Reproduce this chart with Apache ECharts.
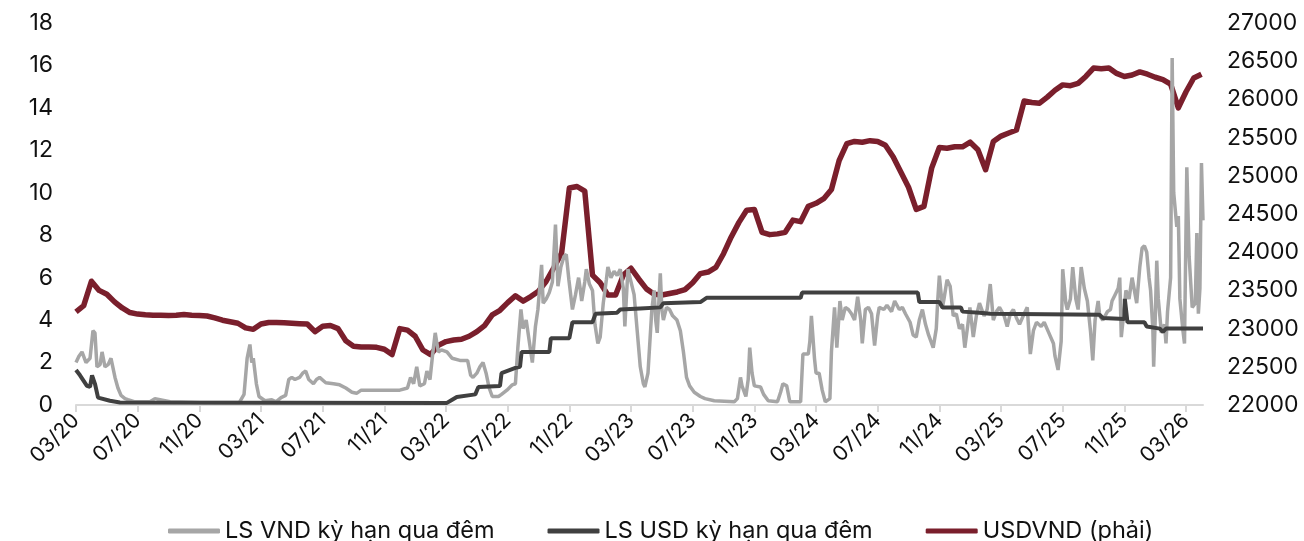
<!DOCTYPE html>
<html>
<head>
<meta charset="utf-8">
<script src="https://cdn.jsdelivr.net/npm/echarts@6/dist/echarts.min.js"></script>
<style>
  html, body { margin: 0; padding: 0; background: #fff; }
  #chart { width: 1304px; height: 541px; }
</style>
</head>
<body>
<div id="chart"></div>
<script>
// x positions are months since 03/2020
const xTickLabels = ['03/20', '07/20', '11/20', '03/21', '07/21', '11/21', '03/22', '07/22', '11/22',
  '03/23', '07/23', '11/23', '03/24', '07/24', '11/24', '03/25', '07/25', '11/25', '03/26']
const xTickStep = 4

// LS VND ky han qua dem (left axis)
const vndMonths = [0, 0.19, 0.39, 0.65, 0.91, 1.1, 1.23, 1.36, 1.56, 1.69, 1.88, 2.08, 2.27, 2.53, 2.72, 2.92, 3.18, 3.37, 3.83, 4.8,
  5.12, 5.45, 6.1, 8.04, 10.6, 10.9, 11.1, 11.28, 11.4, 11.5, 11.7, 11.87, 12.26, 12.7, 12.97, 13.3, 13.6, 13.8, 14.0, 14.2,
  14.5, 14.7, 14.9, 15.1, 15.4, 15.6, 15.8, 16.2, 16.7, 17.1, 17.5, 17.9, 18.2, 18.5, 19.7, 21.0, 21.5, 21.7, 21.9, 22.1,
  22.3, 22.6, 22.76, 22.96, 23.15, 23.3, 23.5, 23.7, 24.06, 24.4, 24.9, 25.4, 25.6, 25.75, 26.0, 26.2, 26.4, 26.6, 26.8, 27.0,
  27.4, 27.6, 27.95, 28.3, 28.5, 28.66, 28.86, 29.0, 29.2, 29.4, 29.6, 29.8, 29.96, 30.2, 30.3, 30.5, 30.7, 30.9, 31.1, 31.26,
  31.45, 31.65, 31.8, 31.97, 32.2, 32.4, 32.6, 32.7, 32.8, 33.0, 33.1, 33.3, 33.5, 33.66, 33.85, 34.0, 34.2, 34.4, 34.5, 34.7,
  34.9, 35.1, 35.3, 35.5, 35.6, 35.8, 36.0, 36.2, 36.4, 36.6, 36.8, 36.9, 37.1, 37.2, 37.35, 37.5, 37.6, 37.7, 37.9, 38.0,
  38.1, 38.3, 38.5, 38.7, 38.98, 39.2, 39.4, 39.6, 39.8, 40.1, 40.5, 40.8, 41.4, 42.7, 42.9, 43.1, 43.2, 43.45, 43.6, 43.7,
  43.85, 44.0, 44.4, 44.6, 44.9, 45.5, 45.7, 45.85, 46.1, 46.3, 47.0, 47.15, 47.5, 47.6, 47.7, 47.9, 48.0, 48.2, 48.4, 48.6,
  48.9, 49.0, 49.2, 49.35, 49.55, 49.7, 49.9, 50.1, 50.3, 50.5, 50.7, 50.9, 51.0, 51.2, 51.4, 51.6, 51.8, 52.0, 52.1, 52.4,
  52.6, 52.9, 53.1, 53.4, 53.6, 53.8, 54.1, 54.3, 54.5, 54.7, 54.9, 55.1, 55.3, 55.6, 55.8, 55.9, 56.0, 56.2, 56.3, 56.5,
  56.7, 56.9, 57.1, 57.3, 57.5, 57.65, 57.85, 57.98, 58.2, 58.4, 58.6, 58.9, 59.1, 59.3, 59.5, 59.7, 59.9, 60.2, 60.4, 60.6,
  60.8, 61.0, 61.2, 61.5, 61.7, 61.9, 62.1, 62.3, 62.6, 62.8, 63.1, 63.4, 63.5, 63.7, 63.9, 64.0, 64.2, 64.3, 64.5, 64.65,
  64.85, 65.0, 65.2, 65.4, 65.6, 65.8, 65.95, 66.1, 66.3, 66.4, 66.6, 66.9, 67.1, 67.2, 67.4, 67.6, 67.7, 67.8, 68.0, 68.1,
  68.3, 68.5, 68.7, 68.8, 69.0, 69.15, 69.3, 69.45, 69.6, 69.7, 69.85, 69.9, 70.0, 70.1, 70.2, 70.4, 70.6, 70.7, 70.8, 71.0,
  71.1, 71.2, 71.4, 71.5, 71.6, 71.8, 71.9, 72.05, 72.2, 72.3, 72.4, 72.6, 72.7, 72.8, 72.9, 73.0, 73.1]
const vndValues = [2.0, 2.3, 2.5, 2.0, 2.2, 3.5, 3.4, 1.8, 1.9, 2.5, 1.8, 1.9, 2.2, 1.3, 0.8, 0.45, 0.3, 0.25, 0.15, 0.15,
  0.3, 0.25, 0.15, 0.12, 0.12, 0.5, 2.2, 2.85, 2.0, 2.2, 1.0, 0.4, 0.2, 0.25, 0.15, 0.35, 0.45, 1.2, 1.3, 1.2,
  1.3, 1.5, 1.6, 1.2, 1.0, 1.2, 1.3, 1.05, 1.0, 0.95, 0.8, 0.6, 0.55, 0.7, 0.7, 0.7, 0.8, 1.3, 1.0, 1.8,
  0.9, 1.0, 1.6, 1.2, 2.5, 3.4, 2.5, 2.6, 2.5, 2.2, 2.1, 2.1, 1.4, 1.3, 1.5, 1.8, 2.0, 1.5, 0.8, 0.4,
  0.4, 0.5, 0.7, 0.95, 1.0, 2.7, 4.5, 3.6, 4.0, 3.0, 2.0, 3.7, 4.5, 6.6, 4.8, 5.0, 5.3, 5.8, 8.5, 5.6,
  6.5, 7.0, 7.1, 5.9, 4.5, 5.2, 6.0, 5.5, 4.9, 5.8, 6.4, 5.7, 5.4, 3.8, 2.9, 3.2, 4.8, 5.9, 6.5, 6.0,
  6.3, 6.1, 6.4, 5.5, 3.7, 6.4, 5.8, 5.2, 3.5, 1.8, 1.0, 0.85, 1.5, 2.7, 4.5, 5.4, 4.0, 3.4, 6.2, 4.5,
  4.0, 4.6, 4.5, 4.2, 4.0, 3.5, 2.5, 1.3, 0.9, 0.6, 0.4, 0.3, 0.2, 0.15, 0.3, 1.3, 0.9, 0.4, 1.2, 2.7,
  1.5, 0.9, 0.85, 0.5, 0.2, 0.15, 0.6, 1.0, 0.9, 0.15, 0.15, 2.4, 2.4, 3.0, 4.2, 2.2, 1.5, 1.5, 0.7, 0.15,
  0.3, 2.5, 4.6, 2.7, 4.9, 4.0, 4.6, 4.5, 4.3, 4.0, 5.1, 4.0, 2.9, 4.5, 4.6, 4.3, 2.8, 4.2, 4.6, 4.5,
  4.7, 4.4, 4.9, 4.5, 4.6, 4.3, 3.9, 3.3, 3.2, 4.0, 4.5, 3.8, 3.3, 2.7, 3.6, 5.0, 6.1, 4.6, 5.0, 5.9,
  5.6, 4.2, 4.3, 3.6, 3.8, 2.7, 3.8, 4.6, 3.2, 4.2, 4.8, 4.2, 4.5, 5.7, 4.0, 4.4, 4.6, 4.2, 3.7, 4.3,
  4.5, 4.1, 3.8, 4.3, 4.6, 2.4, 3.5, 3.9, 3.7, 3.9, 3.4, 2.9, 2.3, 1.65, 3.0, 6.4, 4.8, 4.5, 5.0, 6.5,
  5.0, 4.5, 6.5, 5.5, 4.9, 3.5, 2.1, 4.0, 4.9, 4.2, 4.0, 4.4, 4.5, 4.9, 5.2, 5.5, 6.0, 3.2, 4.6, 5.4,
  5.0, 6.0, 5.2, 4.8, 6.5, 7.4, 7.5, 7.2, 6.0, 5.4, 3.5, 1.8, 4.0, 6.8, 5.0, 3.4, 3.8, 2.9, 4.4, 6.0,
  16.35, 10.0, 8.4, 8.9, 5.0, 3.5, 2.9, 11.2, 7.0, 5.8, 4.6, 4.8, 8.1, 4.3, 5.5, 11.4, 8.7]

// LS USD ky han qua dem (left axis)
const usdMonths = [0, 0.26, 0.71, 0.91, 1.04, 1.23, 1.43, 2.2, 2.85, 24.06, 24.4, 24.7, 25.9, 26.1, 27.5, 27.6, 28.5, 28.8, 28.9, 30.7,
  30.8, 32.0, 32.2, 33.5, 33.7, 35.1, 35.3, 36.6, 37.9, 38.1, 40.5, 40.9, 47.0, 47.1, 54.6, 54.7, 56.0, 56.2, 57.4, 57.5,
  58.6, 59.3, 66.4, 66.6, 68.0, 68.03, 68.2, 69.3, 69.45, 70.3, 70.5, 70.7, 73.1]
const usdValues = [1.65, 1.4, 0.9, 0.85, 1.4, 1.0, 0.35, 0.2, 0.12, 0.1, 0.25, 0.38, 0.5, 0.85, 0.9, 1.5, 1.75, 1.8, 2.5, 2.5,
  3.15, 3.15, 3.9, 3.9, 4.3, 4.35, 4.5, 4.55, 4.6, 4.8, 4.85, 5.05, 5.05, 5.3, 5.3, 4.85, 4.85, 4.6, 4.6, 4.4,
  4.35, 4.3, 4.25, 4.1, 4.05, 5.0, 3.9, 3.9, 3.7, 3.6, 3.45, 3.6, 3.6]

// USDVND (right axis), twice a month from 03/2020
const usdvndValues = [23220, 23300, 23620, 23500, 23450, 23350, 23270, 23210, 23190, 23180,
  23175, 23175, 23170, 23175, 23185, 23175, 23170, 23165, 23140, 23110,
  23090, 23070, 23010, 22990, 23060, 23080, 23080, 23075, 23070, 23065,
  23060, 22960, 23030, 23040, 23000, 22840, 22770, 22760, 22760, 22755,
  22730, 22660, 23000, 22980, 22900, 22720, 22660, 22780, 22830, 22850,
  22860, 22900, 22960, 23040, 23180, 23240, 23340, 23430, 23360, 23420,
  23490, 23620, 23800, 23990, 24840, 24860, 24800, 23700, 23600, 23440,
  23440, 23700, 23790, 23650, 23520, 23450, 23440, 23460, 23480, 23510,
  23600, 23720, 23740, 23800, 23980, 24200, 24390, 24550, 24560, 24260,
  24230, 24240, 24260, 24420, 24400, 24600, 24640, 24700, 24820, 25200,
  25420, 25450, 25440, 25460, 25450, 25400, 25250, 25050, 24850, 24560,
  24600, 25100, 25370, 25360, 25380, 25380, 25440, 25340, 25080, 25450,
  25520, 25560, 25600, 25980, 25960, 25950, 26030, 26120, 26190, 26180,
  26210, 26300, 26410, 26400, 26410, 26340, 26300, 26320, 26360, 26330,
  26290, 26260, 26200, 25890, 26100, 26280, 26330]

const FONT = 'Inter'
const tickPos = xTickLabels.map((_, i) => i * xTickStep)

const chart = echarts.init(document.getElementById('chart'), null, { renderer: 'canvas' })

const option = {
  animation: false,
  backgroundColor: '#fff',
  textStyle: { fontFamily: FONT },
  grid: { left: 76, right: 101, top: 23, bottom: 136, containLabel: false, outerBoundsMode: 'none' },
  legend: {
    left: 163,
    top: 514,
    itemWidth: 52,
    itemHeight: 5,
    itemGap: 53,
    icon: 'roundRect',
    textStyle: { fontFamily: FONT, fontSize: 23.5, color: '#111' },
    data: ['LS VND kỳ hạn qua đêm', 'LS USD kỳ hạn qua đêm', 'USDVND (phải)']
  },
  xAxis: {
    type: 'value',
    min: 0,
    max: 73.1,
    axisLine: { show: true, lineStyle: { color: '#d9d9d9', width: 2 } },
    axisTick: { show: true, length: 7, customValues: tickPos, lineStyle: { color: '#d9d9d9', width: 2 } },
    splitLine: { show: false },
    axisLabel: {
      customValues: tickPos,
      rotate: 45,
      margin: 12,
      fontFamily: FONT,
      fontSize: 21,
      color: '#111',
      formatter: (v) => xTickLabels[Math.round(v / xTickStep)] || ''
    }
  },
  yAxis: [
    {
      type: 'value',
      min: 0,
      max: 18,
      interval: 2,
      axisLine: { show: false },
      axisTick: { show: false },
      splitLine: { show: false },
      axisLabel: { margin: 23, fontFamily: FONT, fontSize: 23, color: '#111' }
    },
    {
      type: 'value',
      min: 22000,
      max: 27000,
      interval: 500,
      position: 'right',
      axisLine: { show: false },
      axisTick: { show: false },
      splitLine: { show: false },
      axisLabel: { margin: 24, fontFamily: FONT, fontSize: 23, color: '#111', formatter: (v) => String(v) }
    }
  ],
  series: [
    {
      name: 'LS VND kỳ hạn qua đêm',
      type: 'line',
      yAxisIndex: 0,
      showSymbol: false,
      z: 3,
      lineStyle: { color: '#a6a6a6', width: 3.5 },
      itemStyle: { color: '#a6a6a6' },
      data: vndMonths.map((t, i) => [t, vndValues[i]])
    },
    {
      name: 'LS USD kỳ hạn qua đêm',
      type: 'line',
      yAxisIndex: 0,
      showSymbol: false,
      z: 4,
      lineStyle: { color: '#404040', width: 4 },
      itemStyle: { color: '#404040' },
      data: usdMonths.map((t, i) => [t, usdValues[i]])
    },
    {
      name: 'USDVND (phải)',
      type: 'line',
      yAxisIndex: 1,
      showSymbol: false,
      z: 2,
      lineStyle: { color: '#7a1f2c', width: 5.5, join: 'round' },
      itemStyle: { color: '#7a1f2c' },
      data: usdvndValues.map((v, i) => [i / 2, v])
    }
  ]
}

chart.setOption(option)
</script>
</body>
</html>
